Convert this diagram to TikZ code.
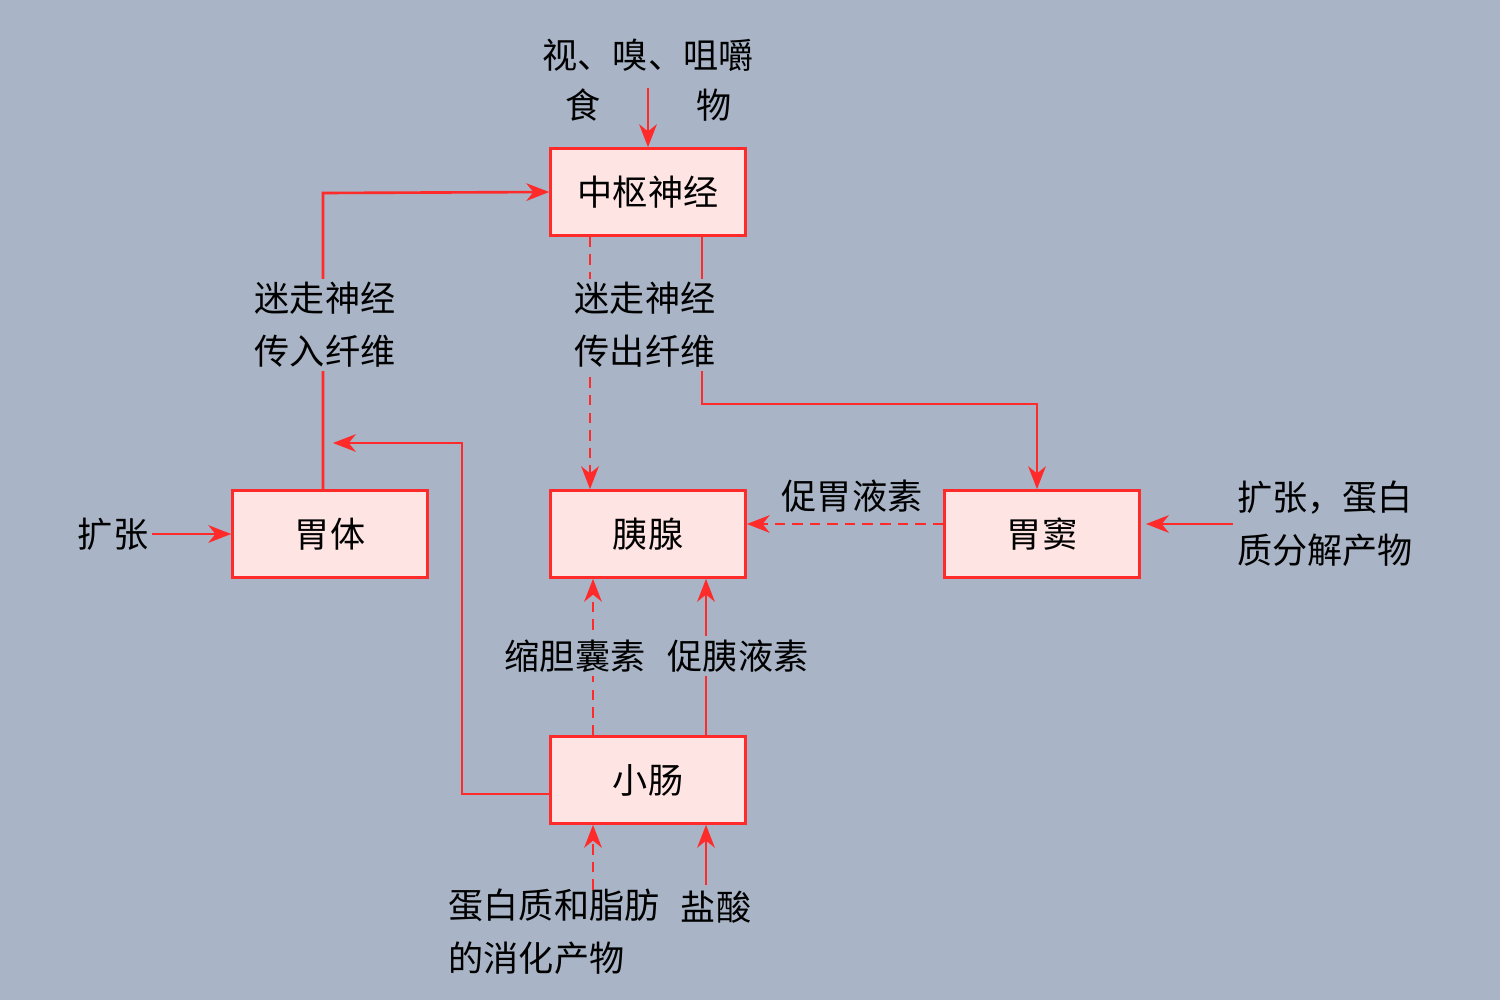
\documentclass[tikz,border=0pt]{standalone}
\usepackage{fontspec}
\setmainfont{Noto Sans CJK SC}
\usetikzlibrary{arrows.meta,positioning}
\definecolor{bg}{HTML}{A9B5C6}
\definecolor{ln}{HTML}{FF2A2A}
\definecolor{bx}{HTML}{FFE4E4}
\tikzset{
  organ/.style={draw=ln,fill=bx,line width=1.5pt,minimum width=3.9cm,minimum height=1.74cm,font=\fontsize{20}{24}\selectfont},
  lbl/.style={fill=bg,inner sep=2pt,align=left,font=\fontsize{20}{30}\selectfont},
  arr/.style={ln,line width=1.5pt,-{Stealth[length=13pt,width=10pt,inset=4pt]}},
  dsh/.style={dash pattern=on 6pt off 4pt}
}
\begin{document}
\begin{tikzpicture}[x=0.02cm,y=-0.02cm]
\fill[bg] (0,0) rectangle (1500,1000);
\useasboundingbox (0,0) rectangle (1500,1000);
% boxes
\node[organ] (cns) at (648,192) {中枢神经};
\node[organ] (body) at (330,534) {胃体};
\node[organ] (panc) at (648,534) {胰腺};
\node[organ] (antr) at (1042,534) {胃窦};
\node[organ] (gut) at (648,780) {小肠};
% outside inputs
\node[lbl] (see) at (648,55) {视、嗅、咀嚼};
\node[lbl] (food) at (583,105) {食};
\node[lbl] (obj) at (714,105) {物};
\coordinate (seeend) at (648,88);
\draw[arr] (seeend) -- (cns.north);
\node[lbl] (dil) at (113,534) {扩张};
\draw[arr] (dil.east) -- (body.west);
\node[lbl] (dil2) at (1325,524) {扩张，蛋白\\质分解产物};
\coordinate (dilend) at (1146,524);
\draw[arr] (dil2.west) -- (dilend);
\node[lbl] (prod) at (554,932) {蛋白质和脂肪\\的消化产物};
\node[lbl] (hcl) at (716,907) {盐酸};
\coordinate (p1) at (593,890);
\coordinate (p2) at (706,885);
\draw[arr,dsh] (p1) -- (gut.south -| p1);
\draw[arr] (p2) -- (gut.south -| p2);
% nerves
\draw[arr] (body.north -| 323,0) -- (323,193) -- (cns.west);
\node[lbl] at (325,325) {迷走神经\\传入纤维};
\draw[arr,dsh] (cns.south -| 590,0) -- (panc.north -| 590,0);
\draw[arr] (cns.south -| 702,0) -- (702,404) -- (1037,404) -- (antr.north -| 1037,0);
\node[lbl] at (645,325) {迷走神经\\传出纤维};
% hormones
\draw[arr,dsh] (antr.west |- 0,524) -- (panc.east |- 0,524);
\node[lbl] at (852,496) {促胃液素};
\draw[arr] (gut.west |- 0,794) -- (462,794) -- (462,443) -- (333,443);
\draw[arr,dsh] (gut.north -| 593,0) -- (panc.south -| 593,0);
\draw[arr] (gut.north -| 706,0) -- (panc.south -| 706,0);
\node[lbl] at (575,656) {缩胆囊素};
\node[lbl] at (738,656) {促胰液素};
\end{tikzpicture}
\end{document}
